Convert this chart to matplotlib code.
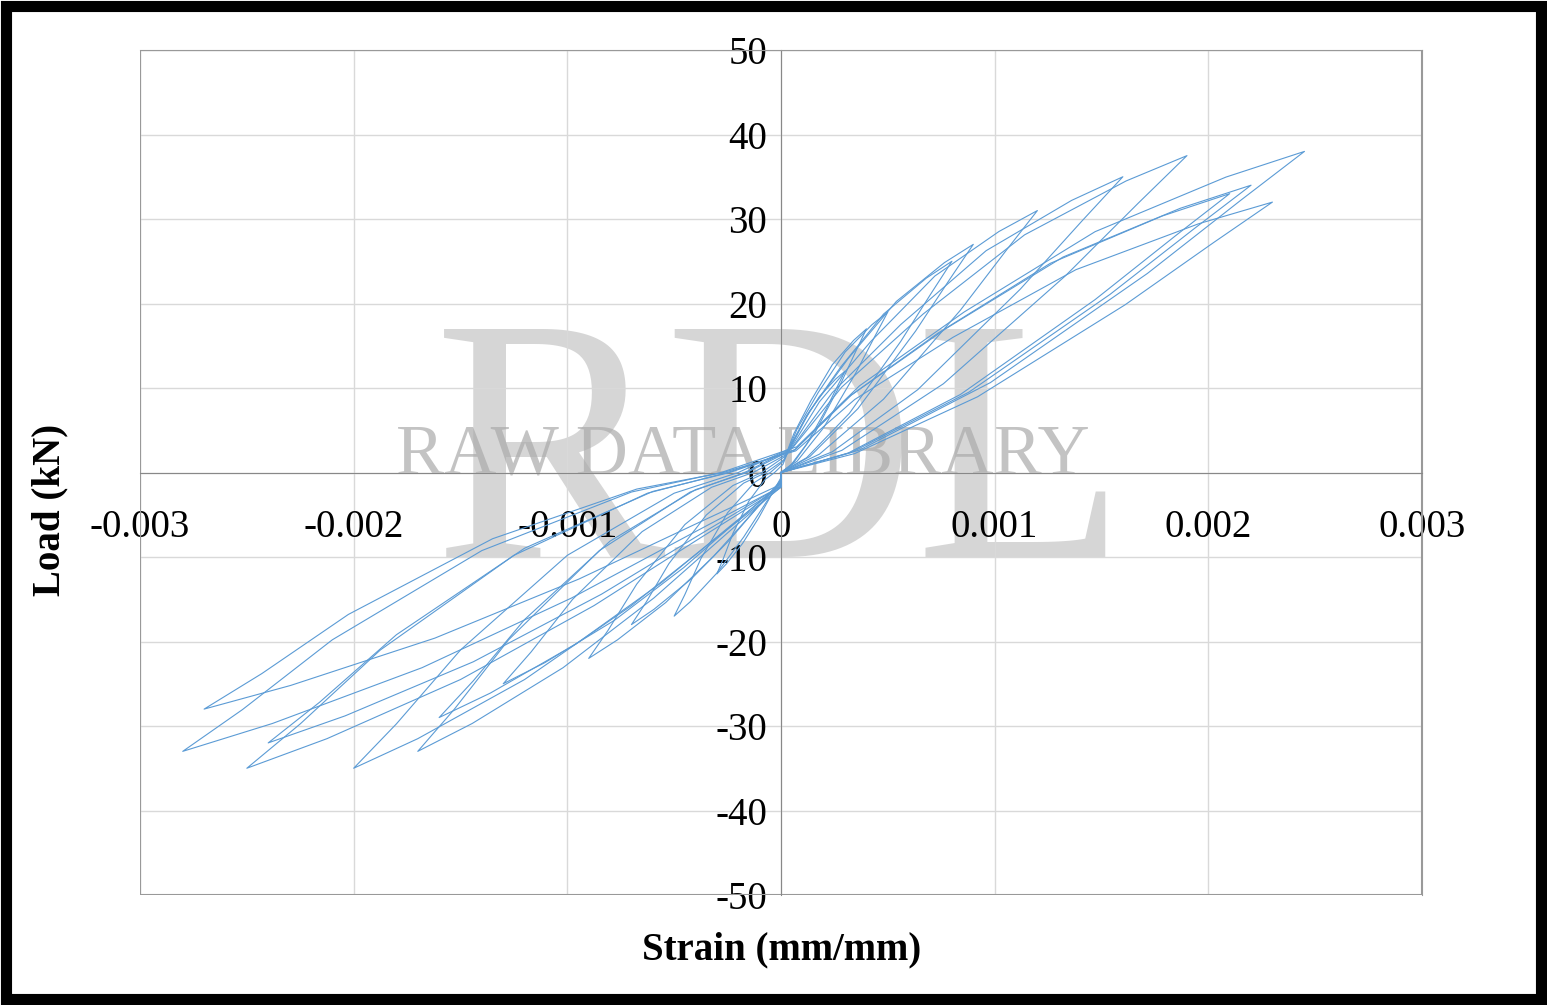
import matplotlib
matplotlib.use("Agg")
import matplotlib.pyplot as plt
import numpy as np

# positive and negative peak points of each loading cycle (strain, load kN)
pos_strain = [0.0003, 0.0004, 0.0005, 0.0008, 0.0009, 0.0012, 0.0016, 0.0019, 0.0021, 0.0022, 0.0023, 0.00245]
pos_load   = [12, 17, 19, 25, 27, 31, 35, 37.5, 33, 34, 32, 38]
neg_strain = [-0.0003, -0.0005, -0.0007, -0.0009, -0.0013, -0.0016, -0.0017, -0.0020, -0.0024, -0.0025, -0.0027, -0.0028]
neg_load   = [-12, -17, -18, -22, -25, -29, -33, -35, -32, -35, -28, -33]
# shape fractions of a pinched loop (relative to peaks)
pos_fx = [0, 0.15, 0.4, 0.7, 0.88, 1.0, 0.85, 0.6, 0.35, 0.15, 0.03]
pos_fy = [0, 0.07, 0.28, 0.62, 0.85, 1.0, 0.92, 0.75, 0.5, 0.27, 0.08]
neg_fx = [0.1, 0.25, 0.5, 0.75, 0.9, 1.0, 0.85, 0.6, 0.35, 0.15, 0.0, 0.0]
neg_fy = [0.0, 0.07, 0.28, 0.6, 0.85, 1.0, 0.9, 0.7, 0.45, 0.22, 0.05, 0.0]

plt.rcParams['font.family'] = ['Liberation Serif']
plt.rcParams['axes.unicode_minus'] = False
fig = plt.figure(figsize=(15.47, 10.05), dpi=100)
ax = fig.add_axes([140/1547, 1-895/1005, 1282/1547, 845/1005])
for xp, yp, xn, yn in zip(pos_strain, pos_load, neg_strain, neg_load):
    xs = [f*xp for f in pos_fx]
    ys = [f*yp for f in pos_fy]
    xs += [-neg_fx[0]*abs(xn)] + [f*xn for f in neg_fx[1:]]
    ys += [f*yn for f in neg_fy]
    ax.plot(xs, ys, color='#5B9BD5', lw=0.8, zorder=3)

ax.set_xlim(-0.003, 0.003)
ax.set_ylim(-50, 50)
ax.set_xticks(np.arange(-0.003, 0.0031, 0.001))
ax.set_xticklabels(['-0.003', '-0.002', '-0.001', '0', '0.001', '0.002', '0.003'])
ax.set_yticks(range(-50, 51, 10))
ax.grid(color='#d9d9d9', lw=1)
ax.spines['left'].set_position(('data', 0))
ax.spines['bottom'].set_position(('data', 0))
for s in ['left', 'bottom']:
    ax.spines[s].set_color('#888888')
for s in ['top', 'right']:
    ax.spines[s].set_color('#999999')
ax.add_patch(plt.Rectangle((0, 0), 1, 1, transform=ax.transAxes, fill=False, ec='#999999', lw=1.5, zorder=1))
ax.tick_params(axis='x', labelsize=28, length=0, pad=26)
ax.tick_params(axis='y', labelsize=28, length=0, pad=10)
ax.set_axisbelow(True)
ax.text(0.5, 0.5, 'RDL', transform=ax.transAxes, ha='center', va='center',
        fontsize=250, color='#bbbbbb', alpha=0.6, zorder=0)
ax.text(0.47, 0.52, 'RAW DATA LIBRARY', transform=ax.transAxes, ha='center', va='center',
        fontsize=52, color='#aaaaaa', alpha=0.7, zorder=0)
fig.text(782/1547, 1-950/1005, 'Strain (mm/mm)', ha='center', va='center', fontsize=28, fontweight='bold')
fig.text(50/1547, 1-510/1005, 'Load (kN)', ha='center', va='center', rotation=90, fontsize=28, fontweight='bold')
border = plt.Rectangle((0.004, 0.006), 0.992, 0.988, transform=fig.transFigure, fill=False, lw=8, color='black')
fig.patches.append(border)
fig.savefig('out.png', dpi=100)
